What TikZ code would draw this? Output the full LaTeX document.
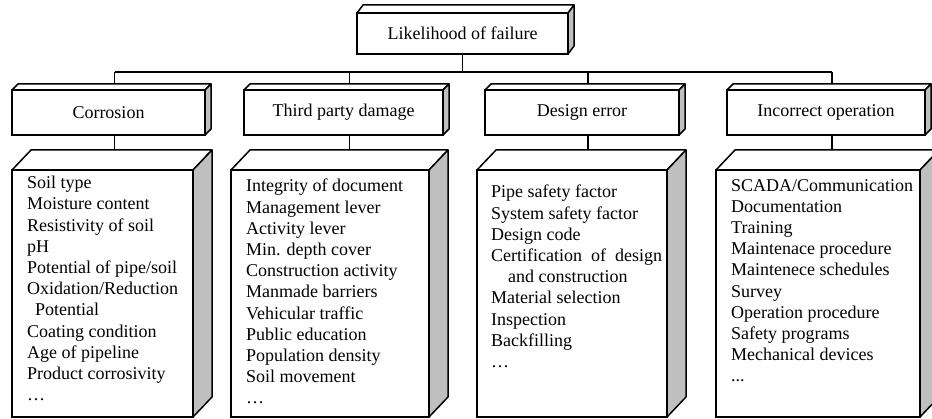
\documentclass[tikz,border=0pt]{standalone}
\usepackage{fontspec}
\setmainfont{Liberation Serif}
\usetikzlibrary{calc}
\tikzset{
  slab/.style={draw, fill=white, line width=1.5pt, inner sep=0pt, outer sep=0pt,
    font=\fontsize{18}{21.2}\selectfont},
  slab top/.style={draw, fill=white, line width=1.5pt, line join=round},
  slab side/.style={draw, fill=black!25, line width=1.5pt, line join=round},
  itemlist/.style={align=left, inner sep=0pt, anchor=north west,
    font=\fontsize{18}{21.2}\selectfont},
  link/.style={line width=1.5pt}
}
% top and side faces of a box: node, depth right, depth up
\newcommand\slabfaces[3]{%
  \coordinate (#1-back) at ($(#1.north)+(#2,-#3)$);
  \draw[slab top] (#1.north west) -- ++(#2,-#3) -- ($(#1.north east)+(#2,-#3)$) -- (#1.north east) -- cycle;
  \draw[slab side] (#1.north east) -- ++(#2,-#3) -- ($(#1.south east)+(#2,-#3)$) -- (#1.south east) -- cycle;
}
\begin{document}
\begin{tikzpicture}[x=1pt, y=-1pt]
\useasboundingbox (0,0) rectangle (932,419);
% top box
\node[slab, minimum width=211pt, minimum height=41pt] (lof) at (462.5,33.5) {Likelihood of failure};
\slabfaces{lof}{6}{8}
% headers
\node[slab, minimum width=193pt, minimum height=45pt] (corr) at (108.5,112.5) {Corrosion};
\node[slab, minimum width=199pt, minimum height=45pt] (tpd) at (343.5,112.5) {Third party damage};
\node[slab, minimum width=194pt, minimum height=45pt] (derr) at (582,112.5) {Design error};
\node[slab, minimum width=198pt, minimum height=45pt] (iop) at (826,112.5) {Incorrect operation};
\slabfaces{corr}{6}{6}
\slabfaces{tpd}{6}{6}
\slabfaces{derr}{6}{6}
\slabfaces{iop}{6}{6}
% lower boxes
\node[slab, minimum width=181pt, minimum height=247pt] (corrbox) at (102.5,293.5) {};
\node[slab, minimum width=198pt, minimum height=247pt] (tpdbox) at (330,293.5) {};
\node[slab, minimum width=190pt, minimum height=247pt] (derrbox) at (572,293.5) {};
\node[slab, minimum width=204pt, minimum height=247pt] (iopbox) at (818,293.5) {};
\slabfaces{corrbox}{19}{20}
\slabfaces{tpdbox}{19}{20}
\slabfaces{derrbox}{19}{20}
\slabfaces{iopbox}{19}{20}
% lists
\node[itemlist] (corrtxt) at ($(corrbox.north west)+(15,6)$) {Soil type\\Moisture content\\Resistivity of soil\\pH\\Potential of pipe/soil\\Oxidation/Reduction\\\hspace*{8pt}Potential\\Coating condition\\Age of pipeline\\Product corrosivity\\…};
\node[itemlist] (tpdtxt) at ($(tpdbox.north west)+(15,9)$) {Integrity of document\\Management lever\\Activity lever\\Min. depth cover\\Construction activity\\Manmade barriers\\Vehicular traffic\\Public education\\Population density\\Soil movement\\…};
\node[itemlist] (derrtxt) at ($(derrbox.north west)+(14,15)$) {Pipe safety factor\\System safety factor\\Design code\\\makebox[171pt][s]{Certification of design}\\\hspace*{17pt}and construction\\Material selection\\Inspection\\Backfilling\\…};
\node[itemlist] (ioptxt) at ($(iopbox.north west)+(15,9)$) {SCADA/Communication\\Documentation\\Training\\Maintenace procedure\\Maintenece schedules\\Survey\\Operation procedure\\Safety programs\\Mechanical devices\\...};
% connectors
\coordinate (bus) at (0,72);
\draw[link] (lof.south) -- (lof.south |- bus);
\draw[link] (corr-back |- bus) -- (iop-back |- bus);
\foreach \n in {corr,tpd,derr,iop}{
  \draw[link] (\n-back |- bus) -- (\n-back);
  \draw[link] (\n-back |- \n.south) -- (\n-back |- \n box-back);
}
\end{tikzpicture}
\end{document}
